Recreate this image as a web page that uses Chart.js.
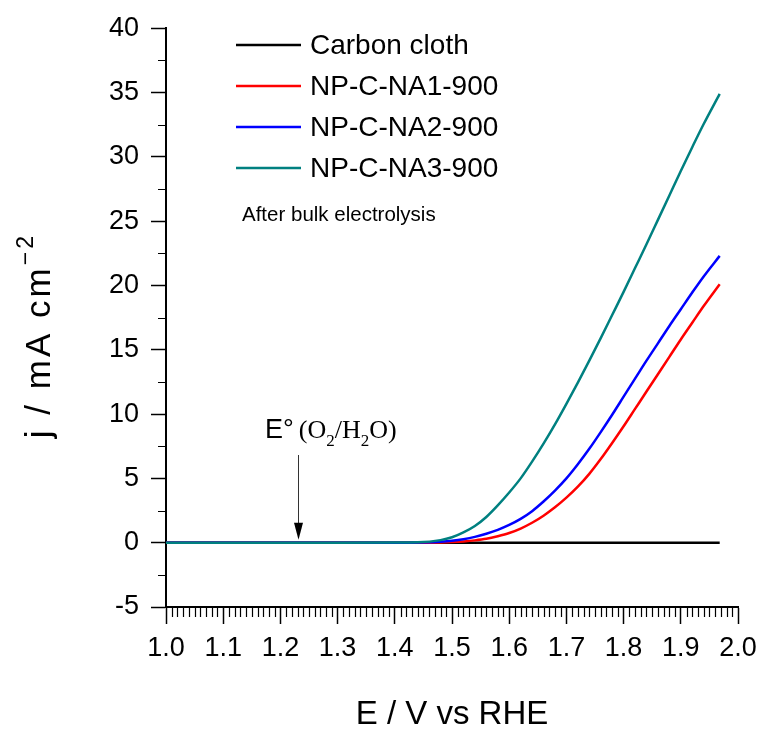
<!DOCTYPE html>
<html><head><meta charset="utf-8">
<script src="https://cdn.jsdelivr.net/npm/chart.js@4.4.0/dist/chart.umd.min.js"></script>
<style>html,body{margin:0;padding:0;background:#fff;}canvas{display:block;}</style>
</head><body>
<canvas id="c" width="765" height="734"></canvas>
<script>
// ---- data ----
const potential = [1.00,1.10,1.20,1.30,1.40,1.44,1.48,1.50,1.52,1.54,1.56,1.58,1.60,1.62,1.64,1.66,1.68,1.70,1.72,1.74,1.76,1.78,1.80,1.82,1.84,1.86,1.88,1.90,1.92,1.94,1.968];
const carbonCloth = [0,0,0,0,0,0,0,0,0,0,0,0,0,0,0,0,0,0,0,0,0,0,0,0,0,0,0,0,0,0,0];
const npcNA1 = [0,0,0,0,0,0,0.02,0.05,0.1,0.18,0.3,0.5,0.75,1.1,1.55,2.1,2.75,3.5,4.35,5.35,6.5,7.75,9.05,10.4,11.75,13.1,14.45,15.8,17.1,18.4,20.1];
const npcNA2 = [0,0,0,0,0,0.02,0.08,0.15,0.27,0.45,0.7,1.0,1.38,1.85,2.45,3.2,4.05,5.0,6.1,7.3,8.6,9.95,11.35,12.75,14.15,15.5,16.85,18.15,19.45,20.7,22.3];
const npcNA3 = [0,0,0,0,0.01,0.03,0.2,0.42,0.8,1.3,2.0,2.9,3.9,5.0,6.3,7.7,9.2,10.8,12.45,14.15,15.9,17.7,19.5,21.35,23.2,25.1,27.0,28.9,30.75,32.55,34.9];
const seriesNames = ['Carbon cloth','NP-C-NA1-900','NP-C-NA2-900','NP-C-NA3-900'];
const seriesColors = ['#000000','#ff0000','#0000ff','#008080'];
const xTickValues = [1.0,1.1,1.2,1.3,1.4,1.5,1.6,1.7,1.8,1.9,2.0];
const yTickValues = [-5,0,5,10,15,20,25,30,35,40];
const eStandard = 1.23;
const noteText = 'After bulk electrolysis';

const SANS = '"Liberation Sans", Arial, Helvetica, sans-serif';
const SERIF = '"Liberation Serif", "Times New Roman", serif';

const allSeries = [carbonCloth, npcNA1, npcNA2, npcNA3];
const datasets = allSeries.map((vals, i) => ({
  label: seriesNames[i],
  data: potential.map((x, k) => ({x, y: vals[k]})),
  borderColor: seriesColors[i],
  backgroundColor: seriesColors[i],
  borderWidth: 2.5,
  pointRadius: 0,
  cubicInterpolationMode: 'monotone',
  fill: false,
  order: 3 - i
}));

const extras = {
  id: 'extras',
  afterDraw(chart) {
    const ctx = chart.ctx;
    const xs = chart.scales.x, ys = chart.scales.y;
    const ca = chart.chartArea;
    ctx.save();
    // minor ticks
    ctx.strokeStyle = '#000';
    ctx.lineWidth = 1.2;
    ctx.beginPath();
    for (let k = 1; k < 100; k++) {
      if (k % 10 === 0) continue;
      const px = Math.round(xs.getPixelForValue(1 + k / 100)) + 0.5;
      ctx.moveTo(px, ca.bottom);
      ctx.lineTo(px, ca.bottom + 10);
    }
    for (let v = -2.5; v < 40; v += 5) {
      const py = Math.round(ys.getPixelForValue(v)) + 0.5;
      ctx.moveTo(ca.left, py);
      ctx.lineTo(ca.left - 8, py);
    }
    ctx.stroke();

    // legend
    ctx.textBaseline = 'middle';
    ctx.textAlign = 'left';
    ctx.font = '28px ' + SANS;
    const legendY = [45, 86, 127, 168];
    chart.data.datasets.forEach((d, i) => {
      const y = legendY[i];
      ctx.strokeStyle = d.borderColor;
      ctx.lineWidth = 2.5;
      ctx.beginPath();
      ctx.moveTo(236, y); ctx.lineTo(301, y);
      ctx.stroke();
      ctx.fillStyle = '#000';
      ctx.fillText(d.label, 310, y + 1);
    });
    ctx.font = '20.5px ' + SANS;
    ctx.textBaseline = 'alphabetic';
    ctx.fillText(noteText, 242, 221);

    // E° annotation arrow
    const ax = Math.round(xs.getPixelForValue(eStandard)) + 0.5;
    const ay = ys.getPixelForValue(0) - 3;
    ctx.strokeStyle = '#333';
    ctx.fillStyle = '#000';
    ctx.lineWidth = 1;
    ctx.beginPath();
    ctx.moveTo(ax, 455); ctx.lineTo(ax, ay - 14);
    ctx.stroke();
    ctx.beginPath();
    ctx.moveTo(ax - 4.5, ay - 17); ctx.lineTo(ax + 4.5, ay - 17); ctx.lineTo(ax, ay);
    ctx.closePath(); ctx.fill();

    // E° (O2/H2O) text
    let tx = 265; const tb = 438;
    ctx.textAlign = 'left';
    ctx.textBaseline = 'alphabetic';
    const put = (t, font, dy) => { ctx.font = font; ctx.fillText(t, tx, tb + dy); tx += ctx.measureText(t).width; };
    put('E°', '27px ' + SANS, 0);
    tx += 5;
    put('(O', '26px ' + SERIF, 0);
    put('2', '17px ' + SERIF, 8);
    put('/H', '26px ' + SERIF, 0);
    put('2', '17px ' + SERIF, 8);
    put('O)', '26px ' + SERIF, 0);

    // axis titles
    ctx.fillStyle = '#000';
    ctx.font = '33px ' + SANS;
    ctx.textAlign = 'center';
    ctx.fillText('E / V vs RHE', (ca.left + ca.right) / 2, 724);

    ctx.save();
    ctx.translate(50, (ca.top + ca.bottom) / 2 + 18);
    ctx.rotate(-Math.PI / 2);
    ctx.textAlign = 'left';
    ctx.letterSpacing = '3px';
    ctx.font = '35px ' + SANS;
    const main = 'j / mA cm';
    const wMain = ctx.measureText(main).width;
    ctx.font = '23px ' + SANS;
    const sup = '\u22122';
    const wSup = ctx.measureText(sup).width;
    const start = -(wMain + wSup) / 2;
    ctx.font = '35px ' + SANS;
    ctx.fillText(main, start, 0);
    ctx.font = '23px ' + SANS;
    ctx.fillText(sup, start + wMain, -17);
    ctx.restore();

    ctx.restore();
  }
};

new Chart(document.getElementById('c'), {
  type: 'line',
  data: { datasets },
  options: {
    responsive: false,
    animation: false,
    devicePixelRatio: 1,
    layout: { padding: { top: 25, right: 27, left: 0, bottom: 0 } },
    plugins: { legend: { display: false }, tooltip: { enabled: false }, title: { display: false } },
    scales: {
      x: {
        type: 'linear', min: 1, max: 2,
        afterFit(s) { s.height = 127; },
        afterBuildTicks(s) { s.ticks = xTickValues.map(v => ({ value: v })); },
        ticks: {
          autoSkip: false, maxRotation: 0, padding: 8, color: '#000',
          font: { family: SANS, size: 27 },
          callback: v => Number(v).toFixed(1)
        },
        grid: { drawOnChartArea: false, drawTicks: true, tickLength: 17, tickWidth: 1.5, tickColor: '#000', color: '#000' },
        border: { display: true, color: '#000', width: 2 }
      },
      y: {
        type: 'linear', min: -5, max: 40,
        afterFit(s) { s.width = 166; },
        afterBuildTicks(s) { s.ticks = yTickValues.map(v => ({ value: v })); },
        ticks: {
          autoSkip: false, padding: 12, color: '#000',
          font: { family: SANS, size: 27 },
          callback: v => String(v)
        },
        grid: { drawOnChartArea: false, drawTicks: true, tickLength: 15, tickWidth: 1.5, tickColor: '#000', color: '#000' },
        border: { display: true, color: '#000', width: 2 }
      }
    }
  },
  plugins: [extras]
});
</script>
</body></html>
